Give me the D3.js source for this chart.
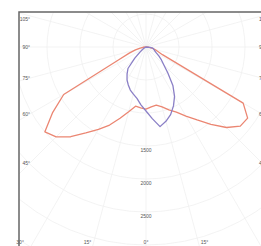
<!DOCTYPE html>
<html>
<head>
<meta charset="utf-8">
<script src="https://cdnjs.cloudflare.com/ajax/libs/d3/7.8.5/d3.min.js"></script>
<style>
  body { margin: 0; background: #fff; }
  #my_dataviz { width: 261px; height: 246px; overflow: hidden; }
  text { font-family: "Liberation Sans", Arial, sans-serif; }
</style>
</head>
<body>
<div id="my_dataviz"></div>
<script>
// gamma angle in degrees, 0 = straight down, negative = left half
var angles = [-90, -85, -80, -75, -70, -65, -60, -55, -50, -45, -40, -35, -30, -25, -20, -15, -10, -5,
              0, 5, 10, 15, 20, 25, 30, 35, 40, 45, 50, 55, 60, 65, 70, 75, 80, 85, 90];

// luminous intensity (cd) of the wide plane (red)
var planeWide = [0, 45, 90, 165, 270, 455, 1440, 1725, 2000, 1925, 1775, 1590, 1440, 1305, 1150, 1015, 910, 925,
                 940, 910, 895, 940, 1015, 1090, 1210, 1350, 1530, 1725, 1865, 1880, 1700, 275, 180, 135, 90, 45, 0];

// luminous intensity (cd) of the narrow plane (blue)
var planeNarrow = [0, 0, 0, 15, 15, 15, 30, 60, 120, 240, 425, 500, 575, 635, 695, 740, 790, 880,
                   970, 1090, 1225, 1165, 1090, 985, 865, 710, 515, 380, 305, 240, 180, 150, 135, 120, 105, 60, 0];

// grid rings and the ones that get a label
var ringValues = [500, 1000, 1500, 2000, 2500, 3000, 3500, 4000, 4500];
var ringLabels = [1500, 2000, 2500];

// angle labels round the frame
var angleTicks = [-105, -90, -75, -60, -45, -30, -15, 0, 15, 30, 45, 60, 75, 90, 105];

var width = 261, height = 246;
var cx = 146, cy = 47;   // centre of the diagram (lamp position)
var frame = {x: 19, y: 12, w: 254, h: 253};

var svg = d3.select("#my_dataviz")
    .append("svg")
    .attr("width", width)
    .attr("height", height);

svg.append("clipPath")
    .attr("id", "clip")
    .append("rect")
    .attr("x", frame.x).attr("y", frame.y)
    .attr("width", frame.w).attr("height", frame.h);

var r = d3.scaleLinear().domain([0, 500]).range([0, 33]);

// gamma (deg) -> d3 radial angle (0 = up, clockwise)
var toRad = function (g) { return Math.PI - g * Math.PI / 180; };

var plot = svg.append("g")
    .attr("clip-path", "url(#clip)")
    .append("g")
    .attr("transform", "translate(" + cx + "," + cy + ")");

// rings
plot.selectAll("allRings")
    .data(ringValues)
    .enter()
    .append("circle")
    .attr("r", function (d) { return r(d); })
    .attr("fill", "none")
    .attr("stroke", "#f0f0f0")
    .attr("stroke-width", 0.8);

// spokes every 15 degrees
plot.selectAll("allSpokes")
    .data(d3.range(0, 360, 15))
    .enter()
    .append("line")
    .attr("x1", 0).attr("y1", 0)
    .attr("x2", function (d) { return d3.pointRadial(toRad(d), 400)[0]; })
    .attr("y2", function (d) { return d3.pointRadial(toRad(d), 400)[1]; })
    .attr("stroke", "#f0f0f0")
    .attr("stroke-width", 0.8);

// intensity curves
var line = d3.lineRadial()
    .angle(function (d) { return toRad(d[0]); })
    .radius(function (d) { return r(d[1]); });

plot.append("path")
    .datum(d3.zip(angles, planeWide))
    .attr("d", line)
    .attr("fill", "none")
    .attr("stroke", "#eb8672")
    .attr("stroke-width", 1.3)
    .attr("stroke-linejoin", "round");

plot.append("path")
    .datum(d3.zip(angles, planeNarrow))
    .attr("d", line)
    .attr("fill", "none")
    .attr("stroke", "#8a7fc6")
    .attr("stroke-width", 1.3)
    .attr("stroke-linejoin", "round");

// ring labels along the 0 degree line
plot.selectAll("allRingLabels")
    .data(ringLabels)
    .enter()
    .append("text")
    .attr("x", 0)
    .attr("y", function (d) { return r(d) + 4; })
    .attr("dy", "0.35em")
    .attr("text-anchor", "middle")
    .style("font-size", "5px")
    .style("fill", "#555")
    .text(function (d) { return d; });

// angle labels: on the sides, or on the bottom when the ray gets there first
svg.selectAll("allAngleLabels")
    .data(angleTicks)
    .enter()
    .append("text")
    .each(function (d) {
        var t = Math.abs(d) * Math.PI / 180;
        var yy = cy + 116 / Math.tan(t);
        var el = d3.select(this);
        if (d !== 0 && yy < 242) {
            el.attr("x", d < 0 ? cx - 116 : cx + 113)
              .attr("y", Math.max(yy, 19))
              .attr("text-anchor", d < 0 ? "end" : "start");
        } else {
            el.attr("x", cx + (d < 0 ? -1 : 1) * 218 * Math.tan(t))
              .attr("y", 242)
              .attr("text-anchor", "middle");
        }
    })
    .attr("dy", "0.35em")
    .style("font-size", "5px")
    .style("fill", "#555")
    .text(function (d) { return Math.abs(d) + "°"; });

// frame
svg.append("rect")
    .attr("x", frame.x).attr("y", frame.y)
    .attr("width", frame.w).attr("height", frame.h)
    .attr("fill", "none")
    .attr("stroke", "#666")
    .attr("stroke-width", 1.5);
</script>
</body>
</html>
